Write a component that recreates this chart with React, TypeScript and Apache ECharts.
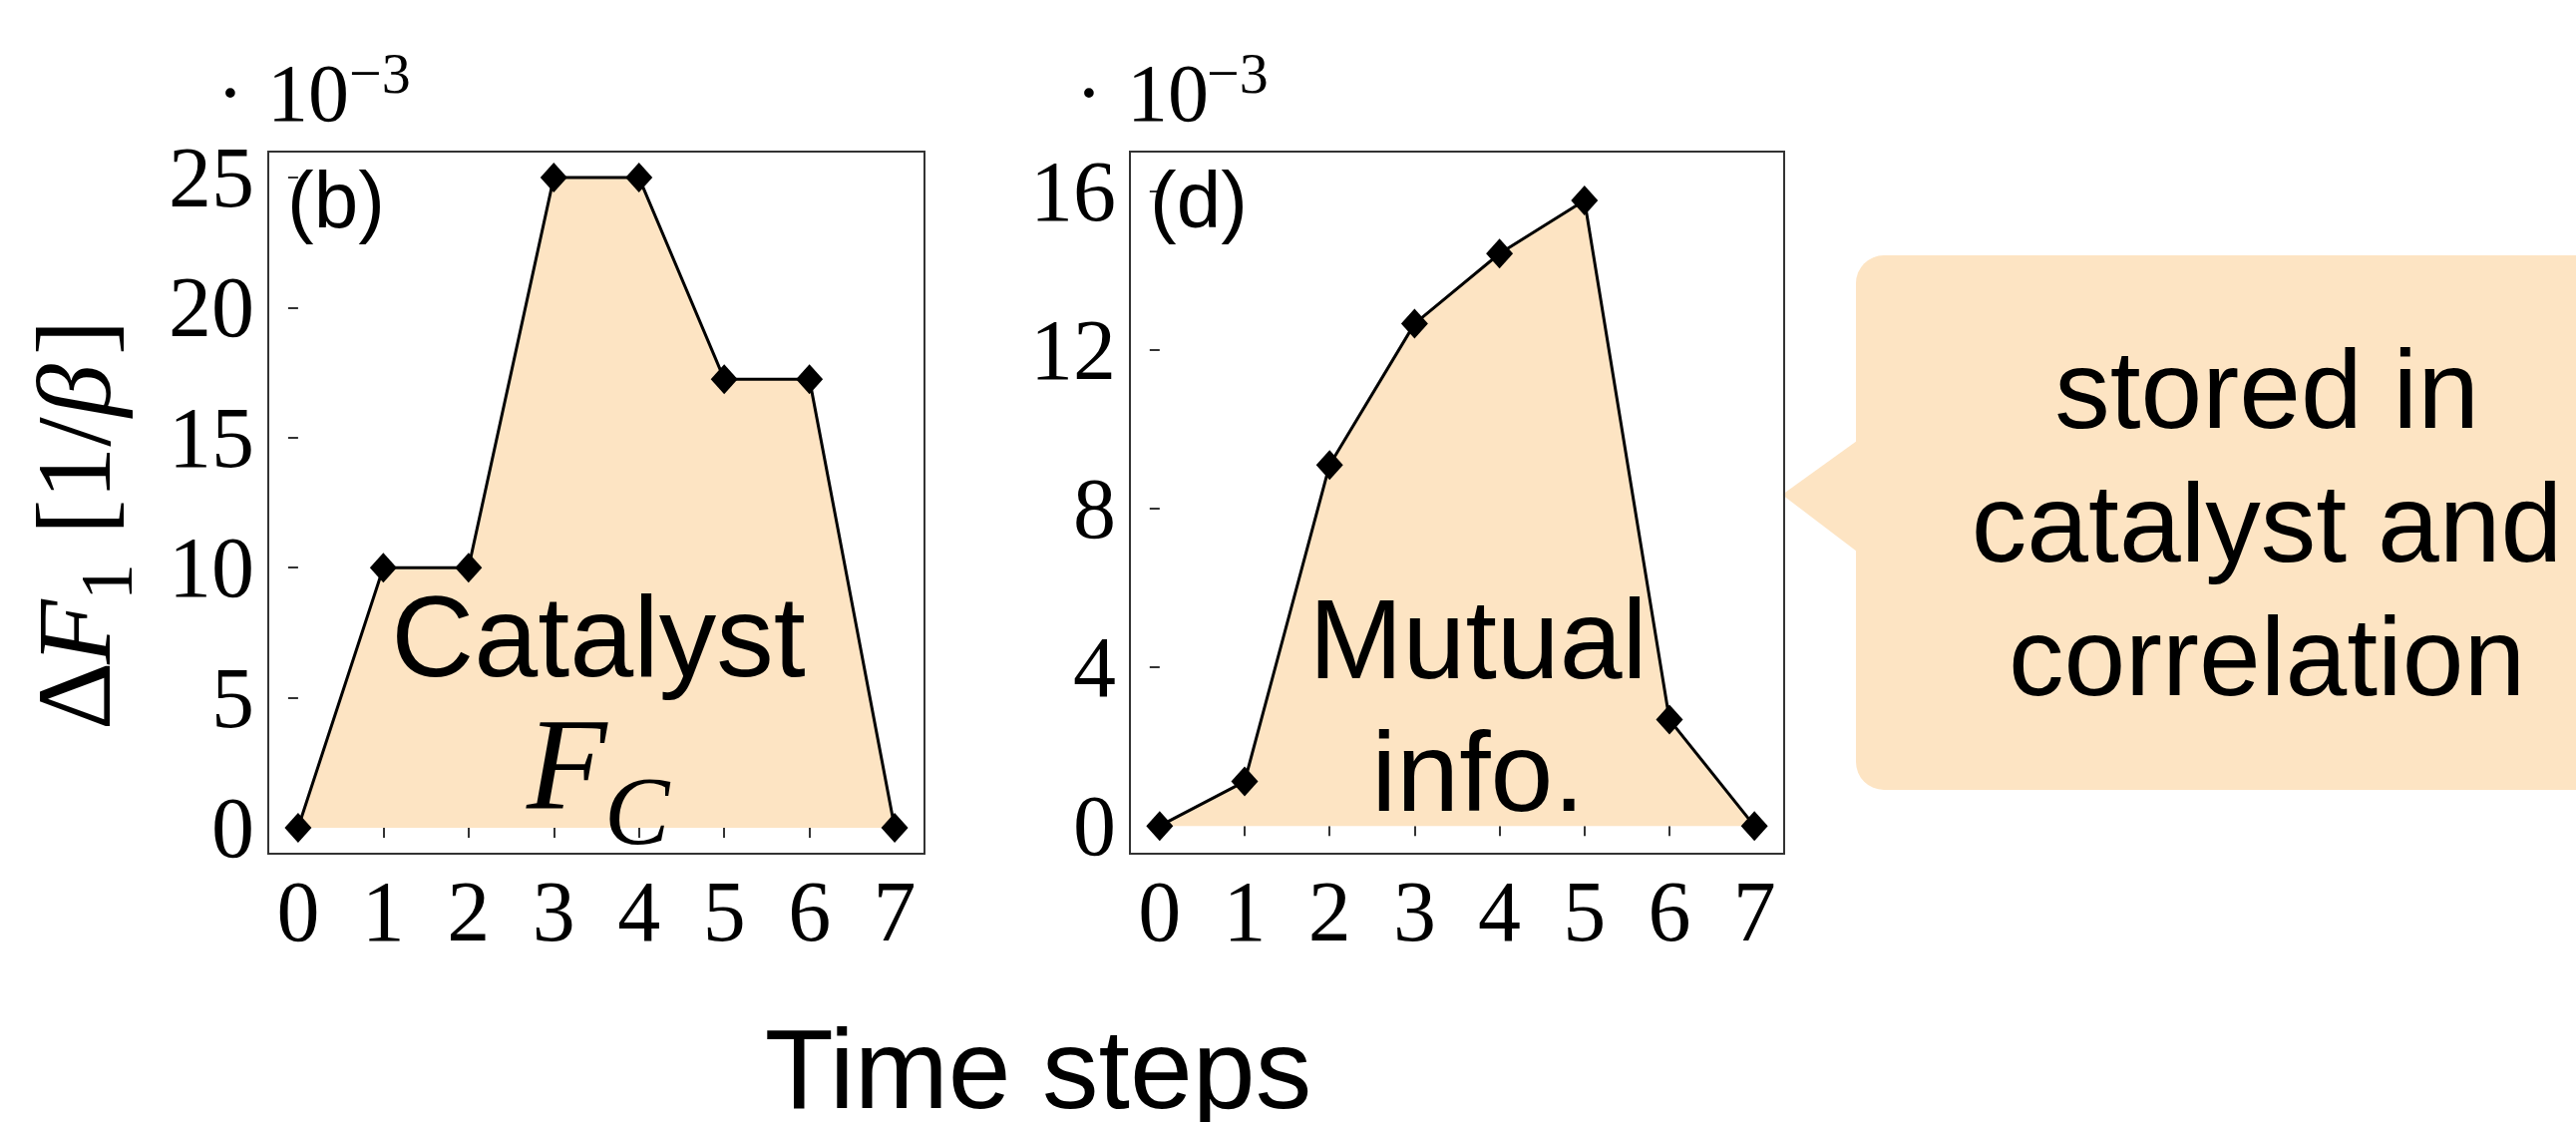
import React, { useEffect, useRef } from "react";
import * as echarts from "echarts";

// ---- data ----
const steps = [0, 1, 2, 3, 4, 5, 6, 7];
const catalystValues = [0, 10, 10, 25, 25, 17.25, 17.25, 0];
const mutualInfoValues = [0, 1.12, 9.1, 12.66, 14.43, 15.77, 2.68, 0];
const catalystTicks = [0, 5, 10, 15, 20, 25];
const mutualTicks = [0, 4, 8, 12, 16];
const calloutLines = ["stored in", "catalyst and", "correlation"];
const panelLabels = ["(b)", "(d)"];
const areaLabels = ["Catalyst", "Mutual\ninfo."];
const xTitle = "Time steps";

const FILL = "#fde4c3";
const SERIF = "'Liberation Serif', 'Times New Roman', serif";
const SANS = "'Liberation Sans', Arial, Helvetica, sans-serif";
const FRAME = "#333";

const W = 2583;
const H = 1125;

const grids = [
  { left: 269, top: 152, width: 658, height: 704 },
  { left: 1133, top: 152, width: 656, height: 704 },
];

function txt(x: number, y: number, t: string, fs: number, extra: any = {}, styleExtra: any = {}) {
  return {
    type: "text",
    x,
    y,
    z: 100,
    ...extra,
    style: {
      text: t,
      fontSize: fs,
      fontFamily: SANS,
      fill: "#000",
      align: "center",
      verticalAlign: "middle",
      ...styleExtra,
    },
  };
}

function multiplier(xDot: number, x10: number, xExp: number) {
  return [
    txt(xDot, 93, "\u00b7", 82, {}, { fontFamily: SERIF }),
    txt(x10, 93, "10", 82, {}, { fontFamily: SERIF, align: "left" }),
    txt(xExp, 73, "\u22123", 58, {}, { fontFamily: SERIF, align: "left" }),
  ];
}

function yTitle() {
  const fs = 106;
  const sub = 74;
  const c = (f: number) => -0.3375 * f;
  return {
    type: "group",
    x: 110,
    y: 732,
    rotation: Math.PI / 2,
    z: 100,
    children: [
      txt(0, c(fs), "\u0394", fs, {}, { fontFamily: SERIF, align: "left" }),
      txt(66, c(fs), "F", fs, {}, { fontFamily: SERIF, fontStyle: "italic", align: "left" }),
      txt(130, 22 + c(sub), "1", sub, {}, { fontFamily: SERIF, align: "left" }),
      txt(196, c(fs), "[1/", fs, {}, { fontFamily: SERIF, align: "left" }),
      txt(314, c(fs), "\u03b2", fs, {}, { fontFamily: SERIF, fontStyle: "italic", align: "left" }),
      txt(376, c(fs), "]", fs, {}, { fontFamily: SERIF, align: "left" }),
    ],
  };
}

function makeXAxis(gridIndex: number) {
  return {
    type: "value",
    gridIndex,
    min: -0.35,
    max: 7.35,
    splitLine: { show: false },
    axisLine: { show: false },
    axisTick: {
      show: true,
      customValues: steps,
      length: 10,
      lineStyle: { color: FRAME, width: 2 },
    },
    axisLabel: {
      customValues: steps,
      fontFamily: SERIF,
      fontSize: 86,
      color: "#000",
      margin: 15,
    },
  };
}

function makeYAxis(gridIndex: number, min: number, max: number, ticks: number[]) {
  return {
    type: "value",
    gridIndex,
    min,
    max,
    splitLine: { show: false },
    axisLine: { show: false },
    axisTick: {
      show: true,
      customValues: ticks,
      length: 10,
      lineStyle: { color: FRAME, width: 2 },
    },
    axisLabel: {
      customValues: ticks,
      fontFamily: SERIF,
      fontSize: 86,
      color: "#000",
      margin: 14,
    },
  };
}

function makeSeries(idx: number, values: number[]) {
  return {
    type: "line",
    xAxisIndex: idx,
    yAxisIndex: idx,
    data: steps.map((s, i) => [s, values[i]]),
    symbol: "diamond",
    symbolSize: [27, 30],
    itemStyle: { color: "#000" },
    lineStyle: { color: "#000", width: 3 },
    areaStyle: { color: FILL, opacity: 1 },
    z: 3,
  };
}

export default function App() {
  const ref = useRef<HTMLDivElement>(null);

  useEffect(() => {
    document.body.style.margin = "0";
    if (!ref.current) return;
    const chart = echarts.init(ref.current, undefined, { renderer: "svg" });
    const option: any = {
      animation: false,
      backgroundColor: "#fff",
      grid: grids.map((g) => ({
        ...g,
        show: true,
        borderColor: FRAME,
        borderWidth: 2,
        backgroundColor: "transparent",
        z: 4,
      })),
      xAxis: [makeXAxis(0), makeXAxis(1)],
      yAxis: [
        makeYAxis(0, -1, 26, catalystTicks),
        makeYAxis(1, -0.7, 17, mutualTicks),
      ],
      series: [makeSeries(0, catalystValues), makeSeries(1, mutualInfoValues)],
      graphic: [
        // callout
        {
          type: "rect",
          z: 1,
          shape: { x: 1861, y: 256, width: 800, height: 536, r: 28 },
          style: { fill: FILL },
        },
        {
          type: "polygon",
          z: 1,
          shape: { points: [[1862, 442], [1787, 496], [1862, 553]] },
          style: { fill: FILL },
        },
        txt(2273, 525, calloutLines.join("\n"), 111, {}, { lineHeight: 134 }),
        // panel labels
        txt(288, 200, panelLabels[0], 80, {}, { align: "left" }),
        txt(1153, 200, panelLabels[1], 80, {}, { align: "left" }),
        // area labels
        txt(600, 638, areaLabels[0], 115),
        txt(528, 766, "F", 132, {}, { fontFamily: SERIF, fontStyle: "italic", align: "left" }),
        txt(606, 813, "C", 98, {}, { fontFamily: SERIF, fontStyle: "italic", align: "left" }),
        txt(1482, 707, areaLabels[1], 113, {}, { lineHeight: 133 }),
        // multipliers
        ...multiplier(231, 268, 350),
        ...multiplier(1092, 1130, 1210),
        // axis titles
        yTitle(),
        txt(1041, 1072, xTitle, 113),
      ],
    };
    chart.setOption(option);
    return () => chart.dispose();
  }, []);

  return <div ref={ref} style={{ width: W, height: H }} />;
}
